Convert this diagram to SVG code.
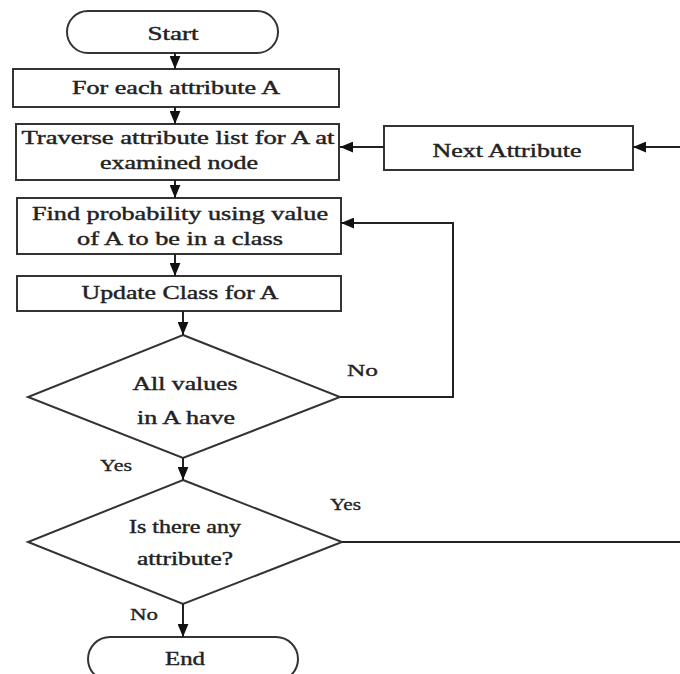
<svg xmlns="http://www.w3.org/2000/svg" width="680" height="674" viewBox="0 0 680 674">
<style>
.s{fill:#fff;stroke:#333;stroke-width:2}
.t{font-family:"Liberation Serif","Times New Roman",serif;font-size:18px;fill:#222;stroke:#222;stroke-width:0.4;text-anchor:middle}
.l{font-family:"Liberation Serif","Times New Roman",serif;font-size:16px;fill:#222;stroke:#222;stroke-width:0.3}
.c{fill:none;stroke:#222;stroke-width:2}
</style>
<defs>
<marker id="ah" viewBox="0 0 12 10" refX="12" refY="5" markerWidth="13" markerHeight="11" markerUnits="userSpaceOnUse" orient="auto">
<path d="M0,0 L12,5 L0,10 Z" fill="#111"/>
</marker>
</defs>
<g id="start"><rect class="s" x="67" y="11" width="211" height="42" rx="21" ry="21"/><text class="t" x="173" y="40" textLength="51" lengthAdjust="spacingAndGlyphs">Start</text></g>
<g id="foreach"><rect class="s" x="13" y="69" width="326" height="38"/><text class="t" x="176" y="94" textLength="208" lengthAdjust="spacingAndGlyphs">For each attribute A</text></g>
<g id="traverse"><rect class="s" x="16" y="124" width="323" height="56"/><text class="t" x="178" y="144" textLength="313" lengthAdjust="spacingAndGlyphs">Traverse attribute list for A at</text><text class="t" x="179" y="169" textLength="158" lengthAdjust="spacingAndGlyphs">examined node</text></g>
<g id="next"><rect class="s" x="384" y="126" width="249" height="44"/><text class="t" x="507" y="157" textLength="149" lengthAdjust="spacingAndGlyphs">Next Attribute</text></g>
<g id="find"><rect class="s" x="17" y="198" width="324" height="56"/><text class="t" x="180" y="220" textLength="296" lengthAdjust="spacingAndGlyphs">Find probability using value</text><text class="t" x="180" y="245" textLength="206" lengthAdjust="spacingAndGlyphs">of A to be in a class</text></g>
<g id="update"><rect class="s" x="17" y="276" width="324" height="35"/><text class="t" x="180" y="299" textLength="197" lengthAdjust="spacingAndGlyphs">Update Class for A</text></g>
<g id="allvalues"><polygon class="s" points="183,335 340,397 183,458 28,397"/><text class="t" x="185" y="390" textLength="105" lengthAdjust="spacingAndGlyphs">All values</text><text class="t" x="186" y="424" textLength="98" lengthAdjust="spacingAndGlyphs">in A have</text></g>
<g id="anyattr"><polygon class="s" points="183,480 342,542 183,604 28,542"/><text class="t" x="185" y="533" textLength="112" lengthAdjust="spacingAndGlyphs">Is there any</text><text class="t" x="185" y="565" textLength="96" lengthAdjust="spacingAndGlyphs">attribute?</text></g>
<g id="end"><rect class="s" x="88" y="637" width="210" height="44" rx="22" ry="22"/><text class="t" x="185" y="665" textLength="40" lengthAdjust="spacingAndGlyphs">End</text></g>
<g id="connectors">
<line class="c" x1="175" y1="53" x2="175" y2="69" marker-end="url(#ah)"/>
<line class="c" x1="175" y1="107" x2="175" y2="124" marker-end="url(#ah)"/>
<line class="c" x1="175" y1="180" x2="175" y2="198" marker-end="url(#ah)"/>
<line class="c" x1="175" y1="254" x2="175" y2="276" marker-end="url(#ah)"/>
<line class="c" x1="183" y1="311" x2="183" y2="335" marker-end="url(#ah)"/>
<line class="c" x1="183" y1="458" x2="183" y2="480" marker-end="url(#ah)"/>
<line class="c" x1="183" y1="604" x2="183" y2="637" marker-end="url(#ah)"/>
<polyline class="c" points="340,397 453,397 453,223 341,223" marker-end="url(#ah)"/>
<line class="c" x1="384" y1="147" x2="340" y2="147" marker-end="url(#ah)"/>
<line class="c" x1="680" y1="147" x2="633" y2="147" marker-end="url(#ah)"/>
<line class="c" x1="342" y1="542" x2="680" y2="542"/>
<text class="l" x="347" y="376" textLength="31" lengthAdjust="spacingAndGlyphs">No</text>
<text class="l" x="100" y="471" textLength="32" lengthAdjust="spacingAndGlyphs">Yes</text>
<text class="l" x="330" y="510" textLength="31" lengthAdjust="spacingAndGlyphs">Yes</text>
<text class="l" x="130" y="620" textLength="28" lengthAdjust="spacingAndGlyphs">No</text>
</g>
</svg>
